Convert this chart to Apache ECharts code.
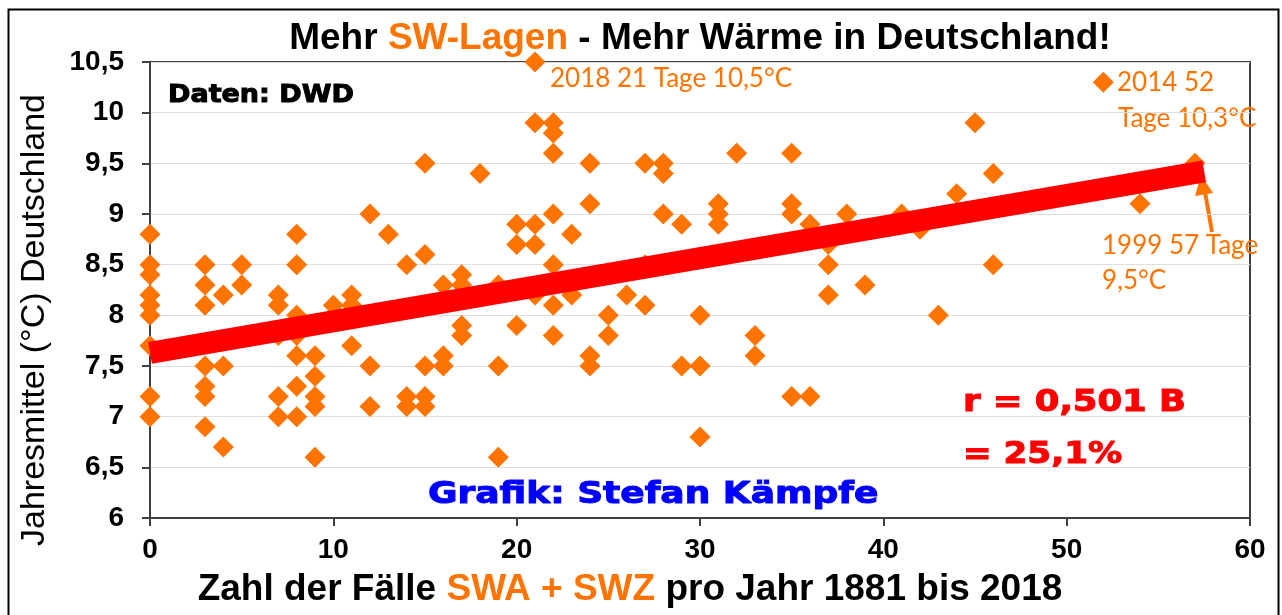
<!DOCTYPE html>
<html>
<head>
<meta charset="utf-8">
<script src="https://cdn.jsdelivr.net/npm/echarts@6/dist/echarts.min.js"></script>
<style>
  html, body { margin: 0; padding: 0; background: #fff; }
  #chart { width: 1282px; height: 615px; }
</style>
</head>
<body>
<div id="chart"></div>
<script>
// Zahl der SWA+SWZ-Fälle pro Jahr (x) und Jahresmittel in °C (y), 1881-2018
const swDays = [
    0, 0, 0, 0, 0, 0, 0, 0, 0,
    3, 3, 3, 3, 3, 3, 3,
    4, 4, 4,
    5, 5,
    7, 7, 7, 7, 7,
    8, 8, 8, 8, 8, 8, 8,
    9, 9, 9, 9, 9,
    10,
    11, 11, 11,
    12, 12, 12,
    13,
    14, 14, 14,
    15, 15, 15, 15, 15,
    16, 16, 16,
    17, 17, 17, 17,
    18,
    19, 19, 19,
    20, 20, 20,
    21, 21, 21, 21, 21,
    22, 22, 22, 22, 22, 22, 22,
    23, 23,
    24, 24, 24, 24,
    25, 25,
    26,
    27, 27, 27,
    28, 28, 28,
    29, 29,
    30, 30, 30,
    31, 31, 31,
    32,
    33, 33,
    35, 35, 35, 35,
    36, 36,
    37, 37, 37,
    38, 39, 41, 42, 43, 44, 45,
    46, 46,
    52, 54, 57
];
const meanTemp = [
    8.8, 8.5, 8.4, 8.2, 8.1, 8.0, 7.7, 7.2, 7.0,
    8.5, 8.3, 8.1, 7.5, 7.3, 7.2, 6.9,
    8.2, 7.5, 6.7,
    8.5, 8.3,
    8.2, 8.1, 7.8, 7.2, 7.0,
    8.8, 8.5, 8.0, 7.8, 7.6, 7.3, 7.0,
    7.6, 7.4, 7.2, 7.1, 6.6,
    8.1,
    8.2, 8.1, 7.7,
    9.0, 7.5, 7.1,
    8.8,
    8.5, 7.2, 7.1,
    9.5, 8.6, 7.5, 7.2, 7.1,
    8.3, 7.6, 7.5,
    8.4, 8.3, 7.9, 7.8,
    9.4,
    8.3, 7.5, 6.6,
    8.9, 8.7, 7.9,
    10.5, 9.9, 8.9, 8.7, 8.2,
    9.9, 9.8, 9.6, 9.0, 8.5, 8.1, 7.8,
    8.8, 8.2,
    9.5, 9.1, 7.6, 7.5,
    8.0, 7.8,
    8.2,
    9.5, 8.5, 8.1,
    9.5, 9.4, 9.0,
    8.9, 7.5,
    8.0, 7.5, 6.8,
    9.1, 9.0, 8.9,
    9.6,
    7.8, 7.6,
    9.6, 9.1, 9.0, 7.2,
    8.9, 7.2,
    8.7, 8.5, 8.2,
    9.0, 8.3, 9.0, 8.85, 8.0, 9.2, 9.9,
    9.4, 8.5,
    10.3, 9.1, 9.5
];

const trendX = [0, 57.5];
const trendY = [7.63, 9.42];

const xTicks = [0, 10, 20, 30, 40, 50, 60];
const yTicks = [6, 6.5, 7, 7.5, 8, 8.5, 9, 9.5, 10, 10.5];

const ORANGE = '#ff7300';
const FONT = 'Liberation Sans, Arial, sans-serif';
const HEAVY = 'DejaVu Sans, sans-serif';
const NOTE = 'Lato, sans-serif';

const points = swDays.map(function (d, i) { return [d, meanTemp[i]]; });
const trend = trendX.map(function (d, i) { return [d, trendY[i]]; });

var myChart = echarts.init(document.getElementById('chart'));

function note(x, y, txt) {
    return { type: 'text', x: x, y: y,
             style: { text: txt, fontFamily: NOTE, fontSize: 26, fill: ORANGE, verticalAlign: 'middle' } };
}

// breite, fette Schrift (Arial Black-Ersatz)
function heavy(x, y, txt, size, color, sx) {
    return { type: 'text', x: x, y: y, scaleX: sx,
             style: { text: txt, fontFamily: HEAVY, fontSize: size, fontWeight: 'bold',
                      fill: color, stroke: color, lineWidth: 1, verticalAlign: 'middle' } };
}

option = {
    backgroundColor: '#fff',
    animation: false,
    title: {
        text: '{b|Mehr }{o|SW-Lagen}{b| - Mehr Wärme in Deutschland!}',
        left: 695,
        top: 15,
        textAlign: 'center',
        textStyle: {
            rich: {
                b: { fontFamily: FONT, fontSize: 37, fontWeight: 'bold', color: '#000' },
                o: { fontFamily: FONT, fontSize: 37, color: ORANGE }
            }
        }
    },
    grid: {
        left: 150,
        right: 32,
        top: 62,
        bottom: 97,
        show: true,
        borderColor: '#404040',
        borderWidth: 2
    },
    xAxis: {
        type: 'value',
        min: xTicks[0],
        max: xTicks[xTicks.length - 1],
        interval: 10,
        axisLine: { show: true, lineStyle: { color: '#404040', width: 2 } },
        axisTick: { show: true, length: 8, lineStyle: { color: '#404040', width: 2 } },
        axisLabel: { fontFamily: FONT, fontSize: 28, fontWeight: 'bold', color: '#000', margin: 18 },
        splitLine: { show: false }
    },
    yAxis: {
        type: 'value',
        min: yTicks[0],
        max: yTicks[yTicks.length - 1],
        interval: 0.5,
        axisLine: { show: true, lineStyle: { color: '#404040', width: 2 } },
        axisTick: { show: true, length: 8, lineStyle: { color: '#404040', width: 2 } },
        axisLabel: {
            fontFamily: FONT, fontSize: 28, fontWeight: 'bold', color: '#000', margin: 26,
            formatter: function (v) { return String(v).replace('.', ','); }
        },
        splitLine: { show: true, lineStyle: { color: '#dedede', width: 1 } }
    },
    series: [
        {
            type: 'scatter',
            data: points,
            symbol: 'diamond',
            symbolSize: [21, 21],
            itemStyle: { color: ORANGE, opacity: 1 },
            z: 2
        },
        {
            type: 'line',
            data: trend,
            showSymbol: false,
            symbol: 'none',
            lineStyle: { color: '#ff0000', width: 22, cap: 'butt' },
            z: 3
        }
    ],
    graphic: [
        // Rahmen
        { type: 'rect', left: 6, top: 7, shape: { width: 1270, height: 640 },
          style: { fill: 'none', stroke: '#000', lineWidth: 2 }, silent: true },
        // y-Achsentitel
        { type: 'text', x: 35, y: 320, rotation: Math.PI / 2,
          style: { text: 'Jahresmittel (°C) Deutschland', fontFamily: FONT, fontSize: 34,
                   fill: '#000', align: 'center', verticalAlign: 'middle' } },
        // x-Achsentitel
        { type: 'text', x: 630, y: 590,
          style: {
              text: '{b|Zahl der Fälle }{o|SWA + SWZ}{b| pro Jahr 1881 bis 2018}',
              align: 'center', verticalAlign: 'middle',
              rich: {
                  b: { fontFamily: FONT, fontSize: 37, fontWeight: 'bold', fill: '#000' },
                  o: { fontFamily: FONT, fontSize: 37, fontWeight: 'bold', fill: ORANGE }
              }
          } },
        heavy(168, 95, 'Daten: DWD', 25, '#000', 1.08),
        heavy(428, 495, 'Grafik: Stefan Kämpfe', 30, '#0000ff', 1.2),
        heavy(963, 403, 'r = 0,501 B', 30, '#ff0000', 1.18),
        heavy(963, 455, '= 25,1%', 30, '#ff0000', 1.14),
        // Beschriftungen einzelner Jahre
        note(550, 79, '2018 21 Tage 10,5°C'),
        note(1117, 83, '2014 52'),
        note(1118, 119, 'Tage 10,3°C'),
        note(1102, 246, '1999 57 Tage'),
        note(1102, 281, '9,5°C'),
        // Pfeil
        { type: 'line', shape: { x1: 1212, y1: 232, x2: 1205, y2: 192 },
          style: { stroke: ORANGE, lineWidth: 4 } },
        { type: 'polygon', shape: { points: [[1201, 175], [1195, 196], [1213, 193]] },
          style: { fill: ORANGE } }
    ]
};

myChart.setOption(option, true);
</script>
</body>
</html>
